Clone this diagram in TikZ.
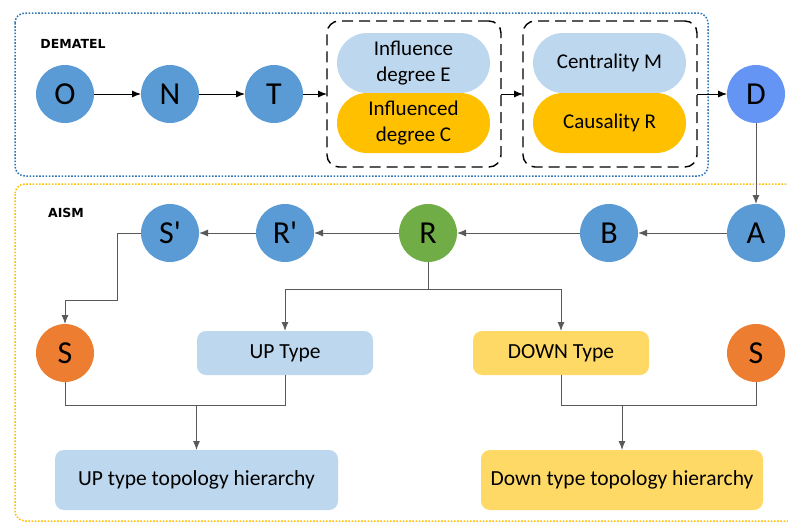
\documentclass[tikz,border=0pt]{standalone}
\usepackage{fontspec}
\setmainfont{Carlito}[Ligatures=TeXOff]
\newfontfamily\labfont{DejaVu Sans}
\usetikzlibrary{arrows.meta}
\definecolor{cblue}{HTML}{5B9BD5}
\definecolor{cdblue}{HTML}{6495F5}
\definecolor{cgreen}{HTML}{70AD47}
\definecolor{corange}{HTML}{ED7D31}
\definecolor{clight}{HTML}{BDD7EE}
\definecolor{cgold}{HTML}{FFC000}
\definecolor{cyel}{HTML}{FFD966}
\definecolor{cframe}{HTML}{2E75B6}
\definecolor{cline}{HTML}{595959}
\tikzset{
  circ/.style={circle, minimum size=58pt, inner sep=0pt, outer sep=0pt, font=\fontsize{32}{34}\selectfont},
  pill/.style={rectangle, rounded corners=30pt, minimum width=153pt, minimum height=60pt, inner sep=0pt, outer sep=0pt, align=center, font=\fontsize{21}{26}\selectfont},
  tbox/.style={rectangle, rounded corners=9pt, inner sep=0pt, outer sep=0pt, font=\fontsize{21.5}{24}\selectfont},
  dashbox/.style={rectangle, draw=black, line width=1.4pt, dash pattern=on 11pt off 6pt, rounded corners=12pt, minimum width=174pt, minimum height=146pt, inner sep=0pt, outer sep=0pt},
  arr/.style={-{Latex[length=9pt,width=7pt]}, line width=0.9pt, black},
  garr/.style={-{Latex[length=9pt,width=7pt]}, line width=1pt, cline},
  gline/.style={line width=1pt, cline},
  sectlabel/.style={font=\labfont\bfseries\fontsize{12.5}{14}\selectfont}
}
\begin{document}
\begin{tikzpicture}[x=1pt,y=-1pt]
\useasboundingbox (0,0) rectangle (788,523);
\begin{scope}
\clip (0,0) rectangle (788,523);
% frames
\draw[cframe, line width=1.5pt, dash pattern=on 1.6pt off 1.6pt, rounded corners=10pt] (15,13) rectangle (708,176);
\draw[cgold, line width=1.5pt, dash pattern=on 1.6pt off 1.6pt, rounded corners=10pt] (15,184) rectangle (800,521);
\end{scope}
\node[sectlabel] (lab1) at (73,44) {DEMATEL};
\node[sectlabel] (lab2) at (66,213) {AISM};
% top row
\node[circ, fill=cblue] (O) at (65,94) {O};
\node[circ, fill=cblue] (N) at (170,94) {N};
\node[circ, fill=cblue] (T) at (274,94) {T};
\node[dashbox] (box1) at (414,94) {};
\node[dashbox] (box2) at (610,94) {};
\node[pill, fill=clight] (E) at (413.5,63) {Influence\\degree E};
\node[pill, fill=cgold] (C) at (413.5,123) {Influenced\\degree C};
\node[pill, fill=clight] (M) at (609.5,63) {Centrality M};
\node[pill, fill=cgold] (CR) at (609.5,123) {Causality R};
\node[circ, fill=cdblue] (D) at (756,94) {D};
\draw[arr] (O) -- (N);
\draw[arr] (N) -- (T);
\draw[arr] (T) -- (box1);
\draw[arr] (box1) -- (box2);
\draw[arr] (box2) -- (D);
% AISM row
\node[circ, fill=cblue] (A) at (756,233) {A};
\node[circ, fill=cblue] (B) at (609,233) {B};
\node[circ, fill=cgreen] (R) at (428,233) {R};
\node[circ, fill=cblue] (Rp) at (285,233) {R'};
\node[circ, fill=cblue] (Sp) at (170,233) {S'};
\node[circ, fill=corange] (S1) at (65,353) {S};
\node[circ, fill=corange] (S2) at (756,353) {S};
\node[tbox, fill=clight, minimum width=176pt, minimum height=44pt] (UP) at (285,353) {UP Type};
\node[tbox, fill=cyel, minimum width=176pt, minimum height=44pt] (DOWN) at (561,353) {DOWN Type};
\node[tbox, fill=clight, minimum width=283pt, minimum height=60pt] (UPH) at (196.5,480) {UP type topology hierarchy};
\node[tbox, fill=cyel, minimum width=282pt, minimum height=60pt] (DOWNH) at (622,480) {Down type topology hierarchy};
\draw[garr] (D) -- (A);
\draw[garr] (A) -- (B);
\draw[garr] (B) -- (R);
\draw[garr] (R) -- (Rp);
\draw[garr] (Rp) -- (Sp);
\coordinate (c1) at (117,300);
\draw[garr] (Sp.west) -| (c1) -| (S1.north);
\coordinate (j1) at (428,289);
\draw[gline] (R.south) -- (j1);
\draw[garr] (j1) -| (UP.north);
\draw[garr] (j1) -| (DOWN.north);
\coordinate (j2) at (196.5,405);
\draw[gline] (S1.south) |- (j2);
\draw[gline] (UP.south) |- (j2);
\draw[garr] (j2) -- (UPH.north);
\coordinate (j3) at (622,405);
\draw[gline] (DOWN.south) |- (j3);
\draw[gline] (S2.south) |- (j3);
\draw[garr] (j3) -- (DOWNH.north);
\end{tikzpicture}
\end{document}
